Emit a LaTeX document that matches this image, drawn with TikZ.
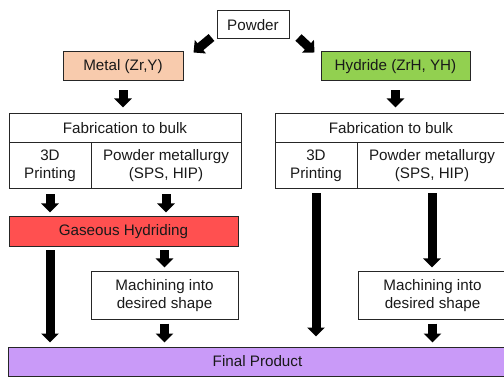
\documentclass[tikz,border=0pt]{standalone}
\usepackage{fontspec}
\setmainfont{Liberation Sans}
\usetikzlibrary{arrows.meta}
\definecolor{metalfill}{HTML}{F8CBAD}
\definecolor{hydridefill}{HTML}{92D050}
\definecolor{gasfill}{HTML}{FF5050}
\definecolor{finalfill}{HTML}{C99AF8}
\tikzstyle{every node}=[font=\fontsize{15.2}{18}\selectfont, text=black!90]
\tikzstyle{box}=[rectangle, draw=black!85, line width=1pt, inner sep=0pt, align=center]
\tikzstyle{bigarrow}=[draw=black, line width=9pt, -{Triangle[width=17pt, length=9pt]}]

\begin{document}
\begin{tikzpicture}[x=1pt, y=-1pt]
	\useasboundingbox (0,0) rectangle (504,377);
	\clip (0,0) rectangle (504,377);

    % Starting material
    \node[box, minimum width=72, minimum height=28] (powder) at (253,25) {Powder};
    \node[box, fill=metalfill, minimum width=120, minimum height=29] (metal) at (123,66.5) {Metal (Zr,Y)};
    \node[box, fill=hydridefill, minimum width=149, minimum height=29] (hydride) at (395.5,66.5) {Hydride (ZrH, YH)};

    \draw[bigarrow] ([shift={(-5,-2)}]powder.south west) -- ([shift={(10,1)}]metal.north east);
    \draw[bigarrow] ([shift={(9,-2)}]powder.south east) -- ([shift={(-6,1)}]hydride.north west);

    % Metal route
    \begin{scope}
        \node[box, minimum width=232, minimum height=29] (fabL) at (125,128.5) {Fabrication to bulk};
        \node[box, minimum width=82, minimum height=46] (printL) at (50,166) {3D\\Printing};
        \node[box, minimum width=150, minimum height=46] (pmL) at (166,166) {Powder metallurgy\\(SPS, HIP)};
        \node[box, fill=gasfill, minimum width=229, minimum height=30] (gas) at (123.5,232) {Gaseous Hydriding};
        \node[box, minimum width=147, minimum height=47] (machL) at (164.5,295.5) {Machining into\\desired shape};

        \draw[bigarrow, shorten <=9pt, shorten >=6pt] (metal) -- (metal |- fabL.north);
        \foreach \i in {printL, pmL} {
            \draw[bigarrow, shorten <=5pt, shorten >=4pt] (\i) -- (\i |- gas.north);
        }
        \draw[bigarrow, shorten <=3pt, shorten >=4pt] (machL |- gas.south) -- (machL);
    \end{scope}

    % Hydride route
    \begin{scope}
        \node[box, minimum width=232, minimum height=29] (fabR) at (391,128.5) {Fabrication to bulk};
        \node[box, minimum width=82, minimum height=46] (printR) at (316,166) {3D\\Printing};
        \node[box, minimum width=150, minimum height=46] (pmR) at (432,166) {Powder metallurgy\\(SPS, HIP)};
        \node[box, minimum width=149, minimum height=47] (machR) at (432.5,295.5) {Machining into\\desired shape};

        \draw[bigarrow, shorten <=9pt, shorten >=6pt] (hydride) -- (hydride |- fabR.north);
        \draw[bigarrow, shorten <=4pt, shorten >=4pt] (pmR) -- (pmR |- machR.north);
    \end{scope}

    % Common end
    \node[box, fill=finalfill, minimum width=499, minimum height=29] (final) at (257.5,361.5) {Final Product};

    \draw[bigarrow, shorten <=3pt, shorten >=4pt] (printL |- gas.south) -- (printL |- final.north);
    \draw[bigarrow, shorten <=4pt, shorten >=10pt] (printR) -- (printR |- final.north);
    \foreach \i in {machL, machR} {
        \draw[bigarrow, shorten <=4pt, shorten >=4pt] (\i) -- (\i |- final.north);
    }

\end{tikzpicture}
\end{document}
